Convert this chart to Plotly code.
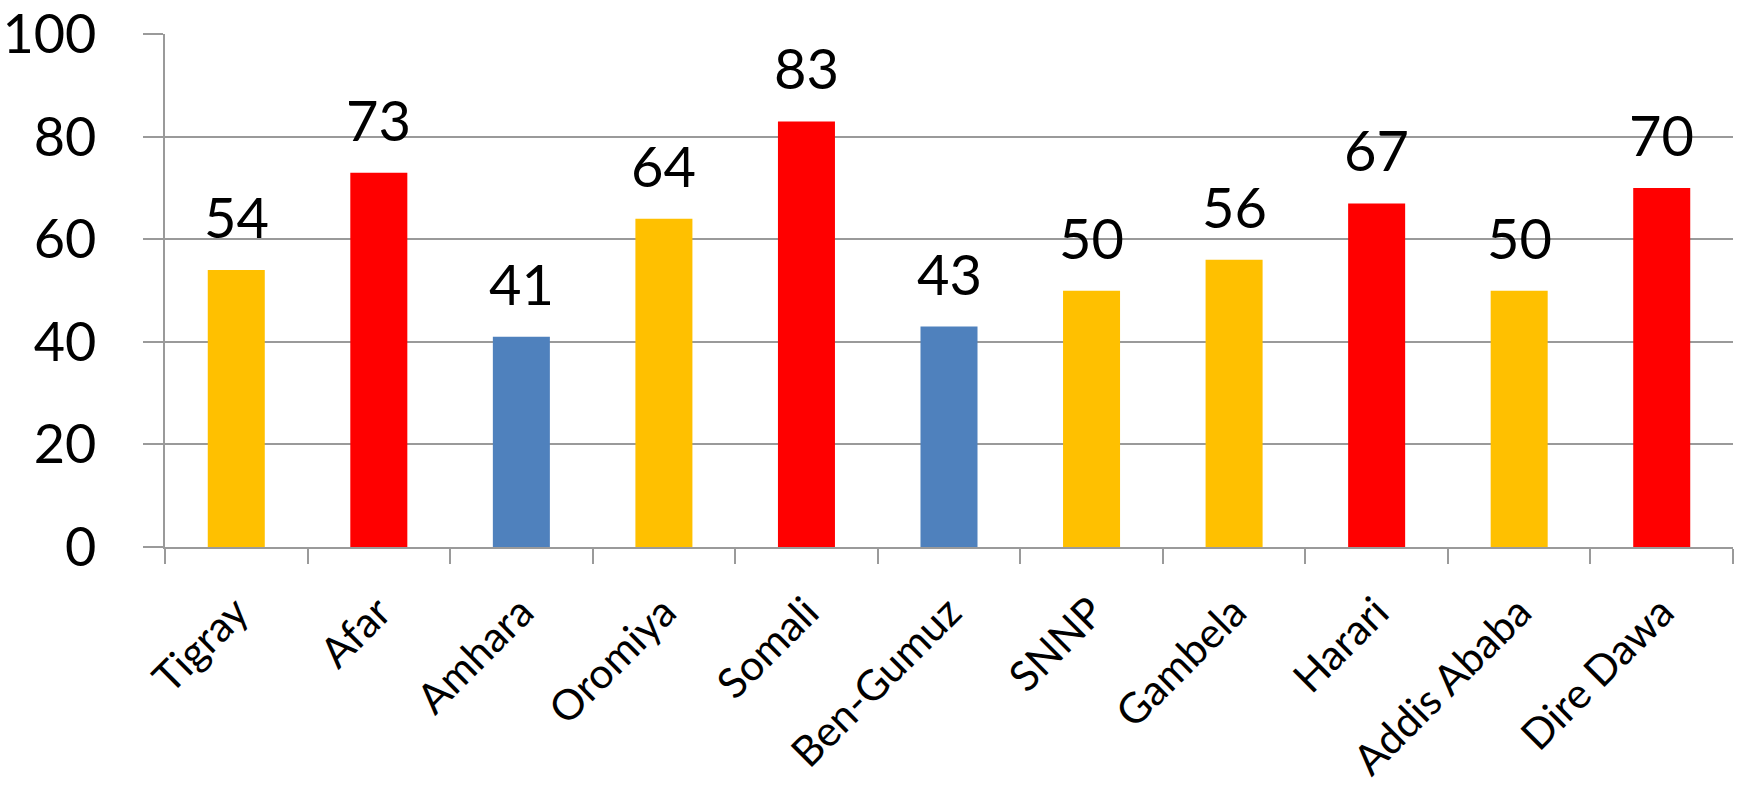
import plotly.graph_objects as go

regions = ["Tigray", "Afar", "Amhara", "Oromiya", "Somali", "Ben-Gumuz",
           "SNNP", "Gambela", "Harari", "Addis Ababa", "Dire Dawa"]
values = [54, 73, 41, 64, 83, 43, 50, 56, 67, 50, 70]
bar_colors = ["#FFC000", "#FF0000", "#4F81BD", "#FFC000", "#FF0000", "#4F81BD",
              "#FFC000", "#FFC000", "#FF0000", "#FFC000", "#FF0000"]
y_ticks = [0, 20, 40, 60, 80, 100]

FONT = "Lato"
GRID = "#9A9A9A"

fig = go.Figure(
    go.Bar(
        x=regions,
        y=values,
        marker=dict(color=bar_colors, line=dict(width=0)),
        width=0.4,
        hoverinfo="x+y",
    )
)

# value labels above each bar
for name, v in zip(regions, values):
    fig.add_annotation(
        x=name, y=v, text=str(v), showarrow=False,
        yanchor="bottom", yshift=18,
        font=dict(family=FONT, size=56, color="black"),
    )

fig.update_layout(
    width=1741,
    height=789,
    margin=dict(l=165, r=8, t=34, b=242),
    paper_bgcolor="white",
    plot_bgcolor="white",
    showlegend=False,
    bargap=0.6,
    font=dict(family=FONT, color="black"),
)

fig.update_xaxes(
    type="category",
    automargin=False,
    tickangle=-45,
    tickfont=dict(family=FONT, size=42, color="black"),
    ticks="outside",
    tickson="boundaries",
    ticklen=15,
    tickwidth=1.5,
    tickcolor=GRID,
    showline=True,
    linecolor=GRID,
    linewidth=1.5,
    showgrid=False,
    ticklabelstandoff=22,
)

fig.update_yaxes(
    range=[0, 100.05],
    automargin=False,
    tickvals=y_ticks,
    tickfont=dict(family=FONT, size=54, color="black"),
    ticks="outside",
    ticklen=20,
    tickwidth=1.5,
    tickcolor=GRID,
    showline=True,
    linecolor=GRID,
    linewidth=1.5,
    showgrid=True,
    gridcolor=GRID,
    gridwidth=1.5,
    zeroline=False,
    ticklabelstandoff=36,
)

fig.write_html("out.html")
